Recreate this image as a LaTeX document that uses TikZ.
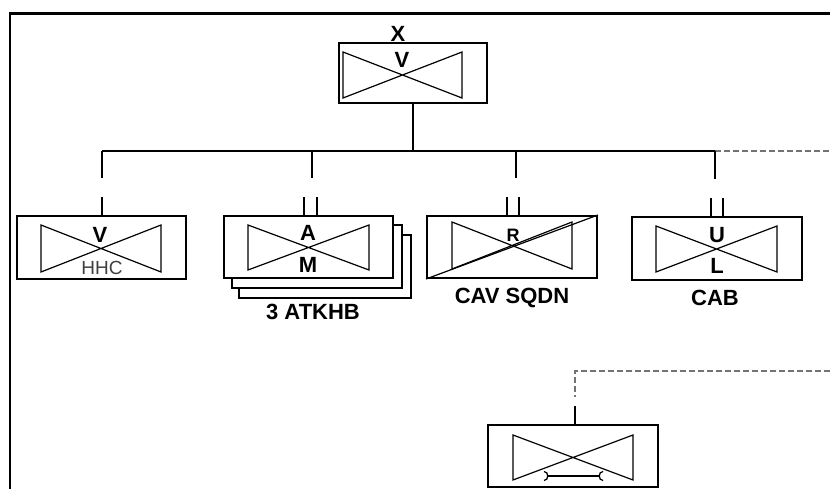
\documentclass[tikz,border=0pt]{standalone}
\usepackage{fontspec}
\setmainfont{Liberation Sans}
\begin{document}
\begin{tikzpicture}[x=1pt,y=-1pt,
  unit/.style={draw,line width=2pt,fill=white,inner sep=0pt},
  bw/.style={line width=1.2pt},
  conn/.style={line width=1.7pt},
  dconn/.style={line width=1.7pt,black!55,dash pattern=on 6pt off 3pt},
  lett/.style={font=\bfseries\fontsize{22}{22}\selectfont,inner sep=0pt},
  lab/.style={font=\bfseries\fontsize{22}{22}\selectfont,inner sep=0pt}]
\newcommand\btie[4]{\draw[bw] (#1,#2) -- (#3,#4) -- (#3,#2) -- (#1,#4) -- cycle;}
\useasboundingbox (0,0) rectangle (830,489);
\fill[white] (0,0) rectangle (830,489);
% frame
\draw[line width=2.6pt] (10,489) -- (10,13.5) -- (830,13.5);

% top unit
\node[unit,minimum width=148pt,minimum height=60pt] (top) at (413,73) {};
\btie{343}{52}{462}{98}
\node[lett] (tx) at (398,34) {X};
\node[lett] (tv) at (402,60) {V};

% bus
\coordinate (b0) at (102,151);
\coordinate (b1) at (312,151);
\coordinate (b2) at (516,151);
\coordinate (b3) at (715,151);
\coordinate (bend) at (830,151);
\draw[conn] (top.south) -- (top.south |- b1);
\draw[conn] (b0) -- (b3);
\draw[dconn] (b3) -- (bend);

% HHC
\node[unit,minimum width=169pt,minimum height=63pt] (hhc) at (101.5,247.5) {};
\btie{41}{225}{161}{272}
\node[lett] (hv) at (100,235) {V};
\node[inner sep=0pt,font=\fontsize{19}{19}\selectfont,text=black!75] (hl) at (102,268) {HHC};
\coordinate (h1) at (102,178);
\coordinate (h2) at (102,197);
\draw[conn] (b0) -- (h1);
\draw[conn] (h2) -- (hhc.north -| h2);

% ATKHB stack
\node[unit,minimum width=172pt,minimum height=63pt] (a3) at (325,266.5) {};
\node[unit,minimum width=170pt,minimum height=63pt] (a2) at (317,256.5) {};
\node[unit,minimum width=169pt,minimum height=62pt] (a1) at (308.5,247) {};
\btie{248}{225}{369}{270}
\node[lett] (aa) at (308,233) {A};
\node[lett] (am) at (308,265) {M};
\node[lab] (alab) at (313,312) {3 ATKHB};
\coordinate (a1t) at (312,178);
\draw[conn] (b1) -- (a1t);
\coordinate (ad1) at (304,197);
\coordinate (ad2) at (317,197);
\draw[conn] (ad1) -- (ad1 |- a1.north);
\draw[conn] (ad2) -- (ad2 |- a1.north);

% CAV SQDN
\node[unit,minimum width=170pt,minimum height=62pt] (cav) at (512,247) {};
\btie{452}{222}{572}{269}
\draw[bw] (cav.south west) -- (cav.north east);
\node[lett,font=\bfseries\fontsize{18}{18}\selectfont] (cr) at (513,235) {R};
\node[lab] (clab) at (512,298) {CAV SQDN};
\coordinate (c1t) at (516,178);
\draw[conn] (b2) -- (c1t);
\coordinate (cd1) at (507,197);
\coordinate (cd2) at (519,197);
\draw[conn] (cd1) -- (cd1 |- cav.north);
\draw[conn] (cd2) -- (cd2 |- cav.north);

% CAB
\node[unit,minimum width=170pt,minimum height=63pt] (cab) at (717,248.5) {};
\btie{656}{226}{777}{272}
\node[lett] (cu) at (717,235) {U};
\node[lett] (cl) at (717,266) {L};
\node[lab] (cblab) at (715,298) {CAB};
\coordinate (k1t) at (715,179);
\draw[conn] (b3) -- (k1t);
\coordinate (kd1) at (711,198);
\coordinate (kd2) at (723,198);
\draw[conn] (kd1) -- (kd1 |- cab.north);
\draw[conn] (kd2) -- (kd2 |- cab.north);

% maintenance unit
\node[unit,minimum width=170pt,minimum height=62pt] (mnt) at (573,456) {};
\btie{513}{435}{633}{480}
\draw[line width=1.5pt] (548,476) -- (599,476);
\draw[line width=1.3pt] (544,471.5) .. controls (549,471.5) and (549,480.5) .. (544,480.5);
\draw[line width=1.3pt] (603,471.5) .. controls (598,471.5) and (598,480.5) .. (603,480.5);
\coordinate (m0) at (830,371);
\coordinate (m1) at (575,371);
\coordinate (m2) at (575,397);
\coordinate (m3) at (575,406);
\draw[dconn] (m0) -- (m1) -- (m2);
\draw[conn] (m3) -- (m3 |- mnt.north);
\end{tikzpicture}
\end{document}
